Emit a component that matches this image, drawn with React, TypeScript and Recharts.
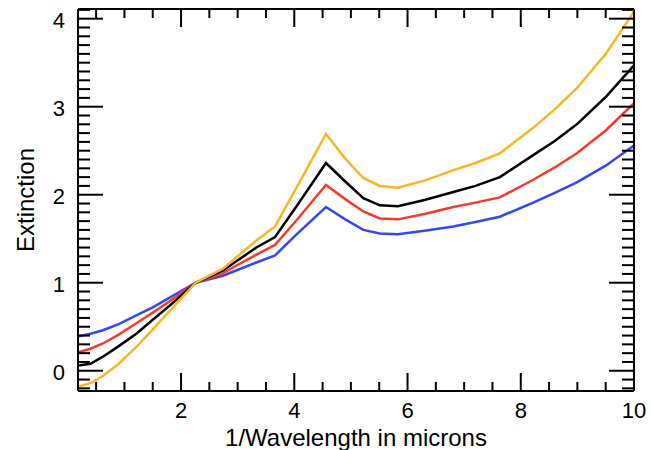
import { LineChart, Line, XAxis, YAxis } from "recharts";

// 1/wavelength (microns^-1)
const wavenumber = [
  0.18, 0.4, 0.62, 0.9, 1.21, 1.5, 1.8, 2.26, 2.74, 3.33, 3.66, 4.04, 4.56,
  4.9, 5.22, 5.51, 5.83, 6.3, 6.81, 7.2, 7.63, 8.22, 8.6, 8.99, 9.5, 10,
];

const blueCurve = [
  0.39, 0.42, 0.46, 0.53, 0.63, 0.72, 0.83, 1.0, 1.08, 1.23, 1.31, 1.55, 1.86,
  1.72, 1.6, 1.56, 1.55, 1.59, 1.64, 1.69, 1.75, 1.91, 2.02, 2.14, 2.33, 2.56,
];
const redCurve = [
  0.21, 0.25, 0.31, 0.41, 0.54, 0.66, 0.79, 1.0, 1.11, 1.32, 1.43, 1.71, 2.11,
  1.95, 1.81, 1.73, 1.72, 1.78, 1.86, 1.91, 1.97, 2.17, 2.31, 2.47, 2.73, 3.04,
];
const blackCurve = [
  0.06, 0.08, 0.16, 0.28, 0.42, 0.58, 0.74, 1.0, 1.14, 1.4, 1.52, 1.87, 2.36,
  2.15, 1.96, 1.88, 1.87, 1.94, 2.03, 2.1, 2.2, 2.45, 2.61, 2.8, 3.11, 3.47,
];
const orangeCurve = [
  -0.18, -0.14, -0.06, 0.08, 0.27, 0.47, 0.68, 1.0, 1.16, 1.48, 1.64, 2.08,
  2.69, 2.41, 2.19, 2.1, 2.08, 2.16, 2.28, 2.36, 2.47, 2.76, 2.97, 3.21, 3.6,
  4.08,
];

const xMajorTicks = [2, 4, 6, 8, 10];
const xTicks = [
  0.5, 1, 1.5, 2, 2.5, 3, 3.5, 4, 4.5, 5, 5.5, 6, 6.5, 7, 7.5, 8, 8.5, 9, 9.5,
  10,
];
const yMajorTicks = [0, 1, 2, 3, 4];
// minor ticks every 0.1
const yTicks = Array.from({ length: 44 }, (_, i) => Math.round(i - 2) / 10);

const rows = wavenumber.map((x, i) => ({
  x,
  blue: blueCurve[i],
  red: redCurve[i],
  black: blackCurve[i],
  orange: orangeCurve[i],
}));

const FONT = "'Liberation Sans', Arial, Helvetica, sans-serif";

const FrameTick = (props: any) => {
  const { x, y, payload, side } = props;
  const v = payload.value;
  if (side === "bottom" || side === "top") {
    const major = xMajorTicks.includes(v);
    const len = major ? 18 : 9;
    const dir = side === "bottom" ? -1 : 1;
    return (
      <g>
        <line x1={x} y1={y} x2={x} y2={y + dir * len} stroke="#000" strokeWidth={2} />
        {side === "bottom" && major && (
          <text x={x} y={y + 27} textAnchor="middle" fontSize={22} fontFamily={FONT} fill="#000">
            {v}
          </text>
        )}
      </g>
    );
  }
  const major = yMajorTicks.some((m) => Math.abs(m - v) < 1e-6);
  const len = major ? 25 : 12;
  const dir = side === "left" ? 1 : -1;
  return (
    <g>
      <line x1={x} y1={y} x2={x + dir * len} y2={y} stroke="#000" strokeWidth={2} />
      {side === "left" && major && (
        <text x={x - 13} y={y + 9} textAnchor="end" fontSize={22} fontFamily={FONT} fill="#000">
          {Math.round(v)}
        </text>
      )}
    </g>
  );
};

const XTitle = ({ viewBox }: any) => (
  <text
    x={viewBox.x + viewBox.width / 2}
    y={viewBox.y + 55}
    textAnchor="middle"
    fontSize={24}
    fontFamily={FONT}
    fill="#000"
  >
    1/Wavelength in microns
  </text>
);

const YTitle = ({ viewBox }: any) => {
  const cx = viewBox.x + 17;
  const cy = viewBox.y + viewBox.height / 2;
  return (
    <text
      x={cx}
      y={cy}
      transform={`rotate(-90 ${cx} ${cy})`}
      textAnchor="middle"
      dominantBaseline="central"
      fontSize={24}
      fontFamily={FONT}
      fill="#000"
    >
      Extinction
    </text>
  );
};

export default function App() {
  return (
    <div style={{ position: "absolute", left: 0, top: 0, background: "#fff" }}>
      <LineChart
        width={651}
        height={450}
        data={rows}
        margin={{ top: 8, right: 7, bottom: 9, left: 8 }}
      >
        <XAxis
          xAxisId="bottom"
          dataKey="x"
          type="number"
          domain={[0.18, 10]}
          allowDataOverflow
          ticks={xTicks}
          interval={0}
          height={50}
          tickSize={0}
          tickMargin={0}
          axisLine={{ stroke: "#000", strokeWidth: 2 }}
          tick={(p: any) => <FrameTick {...p} side="bottom" />}
          label={{ content: XTitle }}
        />
        <XAxis
          xAxisId="top"
          orientation="top"
          dataKey="x"
          type="number"
          domain={[0.18, 10]}
          allowDataOverflow
          ticks={xTicks}
          interval={0}
          height={1}
          tickSize={0}
          tickMargin={0}
          axisLine={{ stroke: "#000", strokeWidth: 2 }}
          tick={(p: any) => <FrameTick {...p} side="top" />}
        />
        <YAxis
          yAxisId="left"
          type="number"
          domain={[-0.23, 4.11]}
          allowDataOverflow
          ticks={yTicks}
          interval={0}
          width={70}
          tickSize={0}
          tickMargin={0}
          axisLine={{ stroke: "#000", strokeWidth: 2 }}
          tick={(p: any) => <FrameTick {...p} side="left" />}
          label={{ content: YTitle }}
        />
        <YAxis
          yAxisId="right"
          orientation="right"
          type="number"
          domain={[-0.23, 4.11]}
          allowDataOverflow
          ticks={yTicks}
          interval={0}
          width={10}
          tickSize={0}
          tickMargin={0}
          axisLine={{ stroke: "#000", strokeWidth: 2 }}
          tick={(p: any) => <FrameTick {...p} side="right" />}
        />
        <Line xAxisId="bottom" yAxisId="left" type="linear" dataKey="blue" stroke="#3049f5" strokeWidth={2.5} dot={false} isAnimationActive={false} />
        <Line xAxisId="bottom" yAxisId="left" type="linear" dataKey="red" stroke="#f43b2c" strokeWidth={2.5} dot={false} isAnimationActive={false} />
        <Line xAxisId="bottom" yAxisId="left" type="linear" dataKey="black" stroke="#000000" strokeWidth={2.5} dot={false} isAnimationActive={false} />
        <Line xAxisId="bottom" yAxisId="left" type="linear" dataKey="orange" stroke="#fbb626" strokeWidth={2.5} dot={false} isAnimationActive={false} />
      </LineChart>
    </div>
  );
}
